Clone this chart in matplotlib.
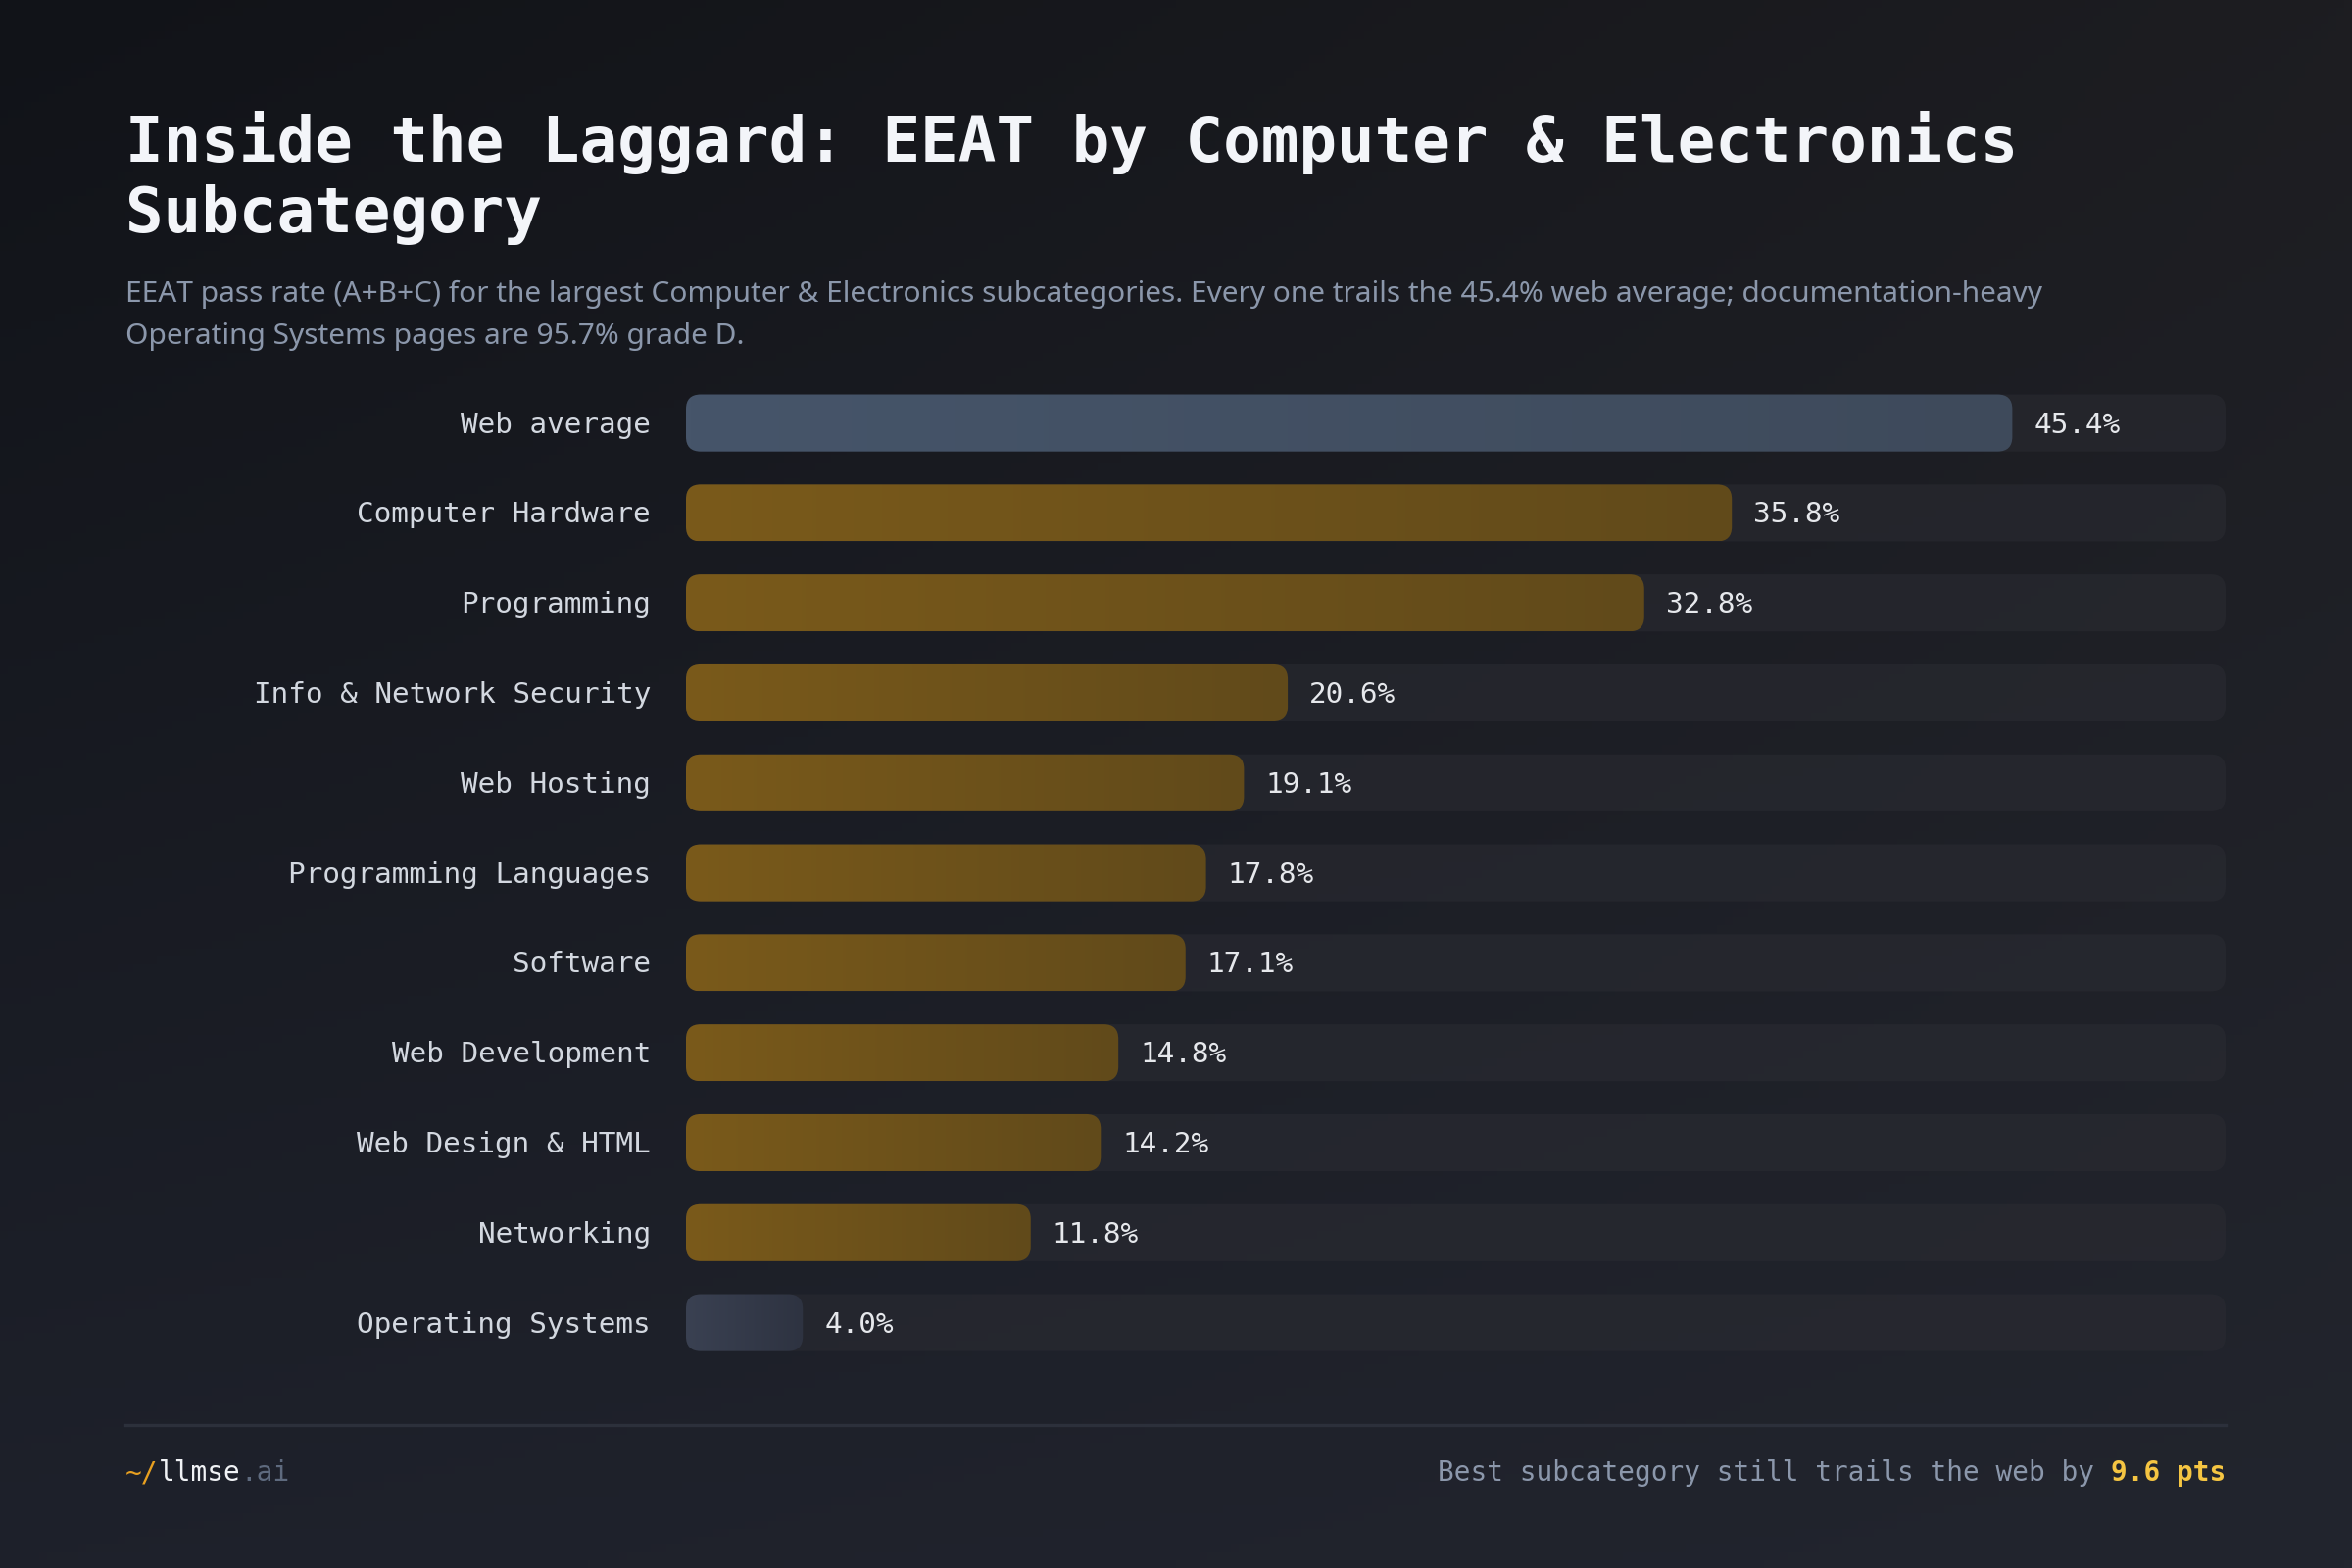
import numpy as np
import matplotlib.pyplot as plt
from matplotlib.patches import FancyBboxPatch
from matplotlib.colors import LinearSegmentedColormap

# Дані
categories = ['Web average', 'Computer Hardware', 'Programming', 'Info & Network Security',
              'Web Hosting', 'Programming Languages', 'Software', 'Web Development',
              'Web Design & HTML', 'Networking', 'Operating Systems']
values = [45.4, 35.8, 32.8, 20.6, 19.1, 17.8, 17.1, 14.8, 14.2, 11.8, 4.0]
value_labels = ['45.4%', '35.8%', '32.8%', '20.6%', '19.1%', '17.8%', '17.1%',
                '14.8%', '14.2%', '11.8%', '4.0%']
bar_kind = ['avg', 'gold', 'gold', 'gold', 'gold', 'gold', 'gold', 'gold', 'gold', 'gold', 'low']
x_max = 52.7

MONO = ['DejaVu Sans Mono']
SANS = ['Noto Sans', 'DejaVu Sans']

W, H, DPI = 2400, 1600, 200
fig = plt.figure(figsize=(W / DPI, H / DPI), dpi=DPI)

# Фон з градієнтом
bg = fig.add_axes([0, 0, 1, 1])
bg.set_axis_off()
yy, xx = np.mgrid[0:1:200j, 0:1:300j]
tl = np.array([0x11, 0x13, 0x18]) / 255
tr = np.array([0x1d, 0x1d, 0x21]) / 255
bl = np.array([0x1e, 0x21, 0x2b]) / 255
br = np.array([0x22, 0x25, 0x2e]) / 255
img = (tl[None, None, :] * ((1 - xx) * (1 - yy))[..., None]
       + tr[None, None, :] * (xx * (1 - yy))[..., None]
       + bl[None, None, :] * ((1 - xx) * yy)[..., None]
       + br[None, None, :] * (xx * yy)[..., None])
bg.imshow(img, extent=[0, 1, 0, 1], aspect='auto', origin='upper')
bg.set_xlim(0, 1)
bg.set_ylim(0, 1)

# Основні осі
left_px, right_px = 700, 2271
row_px = 91.8
top_px = 431.6 - row_px / 2
n = len(categories)
ax_h = n * row_px
ax = fig.add_axes([left_px / W, 1 - (top_px + ax_h) / H, (right_px - left_px) / W, ax_h / H])
ax.set_xlim(0, x_max)
ax.set_ylim(n - 0.5, -0.5)
ax.set_axis_off()

px_x = (right_px - left_px) / x_max
aspect = px_x / row_px
bar_h = 0.633
radius = 15 / px_x
dy = 2 / row_px  # невеликий зсув тексту вниз

grads = {
    'gold': ['#7a5a1b', '#614a1a'],
    'avg': ['#46556a', '#3e4a5b'],
    'low': ['#3a4152', '#2e3341'],
}

for i, (cat, v, lab, kind) in enumerate(zip(categories, values, value_labels, bar_kind)):
    track = FancyBboxPatch((0, i - bar_h / 2), x_max, bar_h,
                           boxstyle=f'round,pad=0,rounding_size={radius}',
                           mutation_aspect=aspect, facecolor='#2b2c33', alpha=0.55,
                           edgecolor='none', zorder=1)
    ax.add_patch(track)

    bar = FancyBboxPatch((0, i - bar_h / 2), v, bar_h,
                         boxstyle=f'round,pad=0,rounding_size={radius}',
                         mutation_aspect=aspect, facecolor='none', edgecolor='none', zorder=2)
    ax.add_patch(bar)
    cmap = LinearSegmentedColormap.from_list(kind, grads[kind])
    im = ax.imshow(np.linspace(0, 1, 256)[None, :], cmap=cmap, aspect='auto',
                   extent=[0, v, i + bar_h / 2, i - bar_h / 2], zorder=2)
    im.set_clip_path(bar)

    ax.text(v + 22 / px_x, i + dy, lab, color='#e6e8ec', fontsize=10.6, family=MONO,
            va='center', ha='left', zorder=3)
    ax.text(-36 / px_x, i + dy, cat, color='#d3d8e0', fontsize=10.6, family=MONO,
            va='center', ha='right', zorder=3, clip_on=False)

ax.set_xlim(0, x_max)
ax.set_ylim(n - 0.5, -0.5)

# Заголовок і підзаголовок
fig.text(128 / W, 1 - 146 / H, 'Inside the Laggard: EEAT by Computer & Electronics',
         color='#f3f5f9', fontsize=23.1, family=MONO, weight='bold', va='center', ha='left')
fig.text(128 / W, 1 - 219 / H, 'Subcategory',
         color='#f3f5f9', fontsize=23.1, family=MONO, weight='bold', va='center', ha='left')
fig.text(128 / W, 1 - 300 / H,
         'EEAT pass rate (A+B+C) for the largest Computer & Electronics subcategories. '
         'Every one trails the 45.4% web average; documentation-heavy',
         color='#8b97ab', fontsize=10.75, family=SANS, va='center', ha='left')
fig.text(128 / W, 1 - 344 / H, 'Operating Systems pages are 95.7% grade D.',
         color='#8b97ab', fontsize=10.75, family=SANS, va='center', ha='left')

# Нижній колонтитул
bg.plot([128 / W, 2271 / W], [1 - 1454 / H, 1 - 1454 / H], color='#2c303b', lw=1.2)
fy = 1 - 1503 / H
t1 = fig.text(128 / W, fy, '~/', color='#e8a020', fontsize=10, family=MONO, va='center', ha='left')
fig.canvas.draw()
r = fig.canvas.get_renderer()
bb = t1.get_window_extent(r)
t2 = fig.text(bb.x1 / W, fy, 'llmse', color='#f0f2f5', fontsize=10, family=MONO, va='center', ha='left')
bb = t2.get_window_extent(r)
fig.text(bb.x1 / W, fy, '.ai', color='#5e6a7e', fontsize=10, family=MONO, va='center', ha='left')

t3 = fig.text(2271 / W, fy, '9.6 pts', color='#f5c542', fontsize=10, family=MONO,
              weight='bold', va='center', ha='right')
bb = t3.get_window_extent(r)
fig.text(bb.x0 / W, fy, 'Best subcategory still trails the web by ', color='#8b97ab',
         fontsize=10, family=MONO, va='center', ha='right')

fig.savefig('out.png', dpi=DPI, facecolor='#15171c')
